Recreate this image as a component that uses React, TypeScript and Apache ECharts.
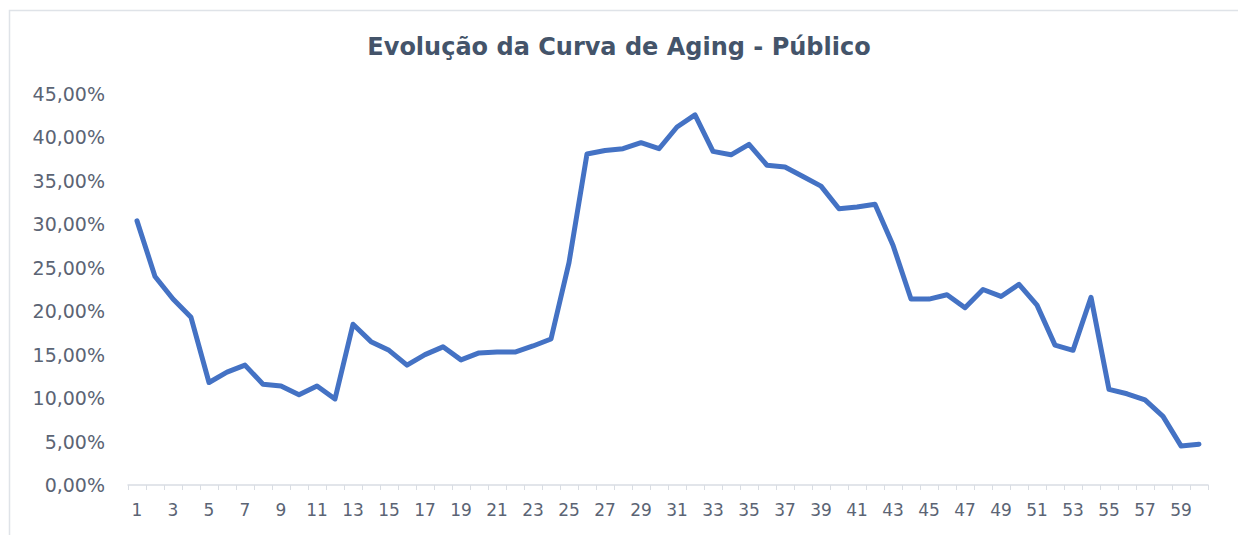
import React, { useEffect, useRef } from "react";
import * as echarts from "echarts";

const titleText = "Evolução da Curva de Aging - Público";

const categories: string[] = Array.from({ length: 60 }, (_, i) => String(i + 1));

const agingValues: number[] = [
  30.4, 24.0, 21.4, 19.3, 11.8, 13.0, 13.8, 11.6, 11.4, 10.4,
  11.4, 9.9, 18.5, 16.5, 15.5, 13.8, 15.0, 15.9, 14.4, 15.2,
  15.3, 15.3, 16.0, 16.8, 25.6, 38.1, 38.5, 38.7, 39.4, 38.7,
  41.2, 42.6, 38.4, 38.0, 39.2, 36.8, 36.6, 35.5, 34.4, 31.8,
  32.0, 32.3, 27.6, 21.4, 21.4, 21.9, 20.4, 22.5, 21.7, 23.1,
  20.7, 16.1, 15.5, 21.6, 11.0, 10.5, 9.8, 7.9, 4.5, 4.7,
];

const yMin = 0;
const yMax = 45;
const yStep = 5;

export default function App() {
  const ref = useRef<HTMLDivElement>(null);

  useEffect(() => {
    if (!ref.current) return;
    const chart = echarts.init(ref.current, undefined, { renderer: "svg" });
    chart.setOption({
      animation: false,
      backgroundColor: "#ffffff",
      title: {
        text: titleText,
        left: "center",
        top: 30,
        textStyle: {
          fontFamily: "DejaVu Sans",
          fontWeight: "bold",
          fontSize: 24,
          color: "#44546a",
        },
      },
      graphic: [
        {
          type: "rect",
          left: 7,
          top: 8,
          shape: { width: 1240, height: 540 },
          style: { fill: "none", stroke: "#dfe3e8", lineWidth: 1.5 },
          silent: true,
        },
      ],
      grid: { left: 128, right: 30, top: 94, bottom: 50, containLabel: false },
      xAxis: {
        type: "category",
        data: categories,
        boundaryGap: true,
        axisLine: { lineStyle: { color: "#d9dde3", width: 1.5 } },
        axisTick: {
          show: true,
          interval: 0,
          alignWithLabel: false,
          length: 5,
          lineStyle: { color: "#d9dde3" },
        },
        axisLabel: {
          interval: 1,
          margin: 16,
          fontFamily: "DejaVu Sans",
          fontSize: 17,
          color: "#5b6474",
        },
        splitLine: { show: false },
      },
      yAxis: {
        type: "value",
        min: yMin,
        max: yMax,
        interval: yStep,
        axisLine: { show: false },
        axisTick: { show: false },
        splitLine: { show: false },
        axisLabel: {
          margin: 23,
          fontFamily: "DejaVu Sans",
          fontSize: 19,
          color: "#5b6474",
          formatter: (v: number) => v.toFixed(2).replace(".", ",") + "%",
        },
      },
      series: [
        {
          type: "line",
          data: agingValues,
          symbol: "none",
          smooth: false,
          lineStyle: { color: "#4472c4", width: 5, join: "round", cap: "round" },
          itemStyle: { color: "#4472c4" },
        },
      ],
    });
    return () => chart.dispose();
  }, []);

  return (
    <div
      ref={ref}
      style={{ position: "absolute", left: 0, top: 0, width: 1238, height: 535 }}
    />
  );
}
